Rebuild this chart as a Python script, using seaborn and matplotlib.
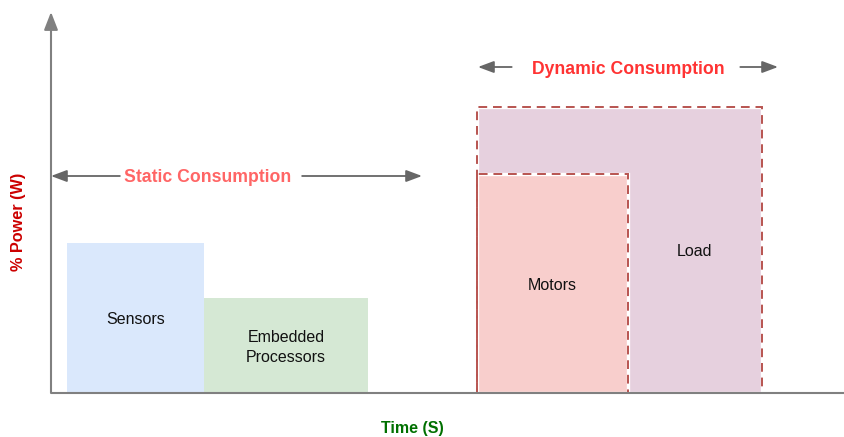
import numpy as np
import pandas as pd
import matplotlib.pyplot as plt
import seaborn as sns

# ---------------------------
# Data (time / power blocks, arbitrary units)
# ---------------------------
components = ["Sensors", "Embedded\nProcessors", "Load", "Motors"]
t_start = [16, 153, 426, 426]
duration = [137, 164, 285, 151]
power = [150, 95, 286, 219]
kind = ["static", "static", "dynamic", "dynamic"]

face_colors = ["#dae8fc", "#d5e8d4", "#e6d0de", "#f8cecc"]
edge_color = "#b85450"

static_span = (0, 371, 217)    # start, end, level
dynamic_span = (427, 727, 326)

df = pd.DataFrame({"component": components, "start": t_start, "duration": duration,
                   "power": power, "kind": kind, "color": face_colors})

# ---------------------------
# Figure
# ---------------------------
sns.set_theme(style="white")
plt.rcParams["font.family"] = ["Liberation Sans", "DejaVu Sans"]

fig = plt.figure(figsize=(8.45, 4.37), dpi=100)
ax = fig.add_axes([0, 0, 1, 1])
ax.set_xlim(-51, 794)
ax.set_ylim(-44, 393)
ax.axis("off")

axis_col = "#808080"
arrow_col = "#666666"

# blocks
for _, r in df.iterrows():
    if r["kind"] == "static":
        ax.bar(r["start"], r["power"], width=r["duration"], align="edge",
               color=r["color"], edgecolor="none", zorder=2)
    else:
        ax.bar(r["start"], r["power"], width=r["duration"], align="edge",
               color=r["color"], edgecolor="white", linewidth=2.4, zorder=2)
        ax.bar(r["start"], r["power"], width=r["duration"], align="edge",
               color="none", edgecolor=edge_color, linewidth=1.4,
               linestyle=(0, (4.5, 3)), zorder=3)

# block labels
for _, r in df.iterrows():
    x = r["start"] + r["duration"] / 2
    if r["component"] == "Load":
        m = df[df["component"] == "Motors"].iloc[0]
        x = (m["start"] + m["duration"] + r["start"] + r["duration"]) / 2
    ax.text(x, r["power"] / 2 - 2, r["component"], ha="center", va="center",
            fontsize=11.5, color="#111111", zorder=4, linespacing=1.35)

# axes lines
ax.plot([0, 794], [0, 0], color=axis_col, lw=1.5, zorder=5, solid_capstyle="butt")
ax.annotate("", xy=(0, 381), xytext=(0, 0),
            arrowprops=dict(arrowstyle="-|>,head_length=0.9,head_width=0.35",
                            color=axis_col, lw=1.5, shrinkA=0, shrinkB=0), zorder=5)

ax.text(-32, 171, "% Power (W)", rotation=90, ha="center", va="center",
        fontsize=11.7, fontweight="bold", color="#cc0000")
ax.text(361, -35, "Time (S)", ha="center", va="center",
        fontsize=11.5, fontweight="bold", color="#007000")

# span arrows
def span_arrow(span, label, color, gap_l, gap_r):
    x0, x1, y = span
    xc = (x0 + x1) / 2 if label.startswith("Dyn") else 156.5
    t = ax.text(xc, y - 2, label, ha="center", va="center", fontsize=12.7,
                fontweight="bold", color=color, zorder=6)
    fig.canvas.draw()
    bb = t.get_window_extent().transformed(ax.transData.inverted())
    style = dict(arrowstyle="-|>,head_length=0.8,head_width=0.3",
                 color=arrow_col, lw=1.3, shrinkA=0, shrinkB=0)
    ax.annotate("", xy=(x0, y), xytext=(bb.x0 - gap_l, y), arrowprops=style)
    ax.annotate("", xy=(x1, y), xytext=(bb.x1 + gap_r, y), arrowprops=style)

span_arrow(static_span, "Static Consumption", "#ff6666", 4, 11)
span_arrow(dynamic_span, "Dynamic Consumption", "#ff3333", 20, 16)

fig.savefig("out.png", dpi=100)
